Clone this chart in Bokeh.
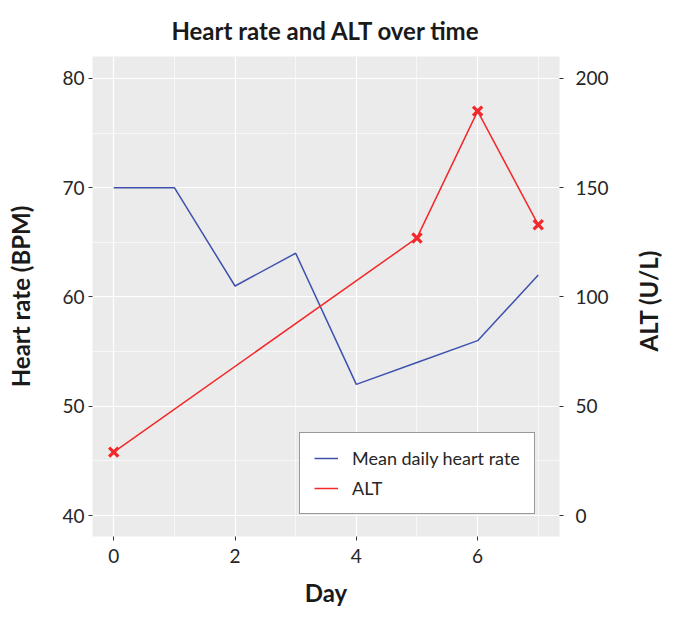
import math
from bokeh.plotting import figure
from bokeh.models import (Range1d, LinearAxis, FixedTicker, Legend, LegendItem)
from bokeh.embed import file_html
from bokeh.resources import INLINE

# ---- data ----
days_hr = [0, 1, 2, 3, 4, 5, 6, 7]
heart_rate = [70, 70, 61, 64, 52, 54, 56, 62]
days_alt = [0, 5, 6, 7]
alt_values = [29, 127, 185, 133]
hr_ticks = [40, 50, 60, 70, 80]
alt_ticks = [0, 50, 100, 150, 200]
day_ticks = [0, 2, 4, 6]

FONT = "Lato"
BLUE = "#3F51AE"
RED = "#F2282A"
TXT = "#262626"

hr_lo, hr_hi = 38.08, 82.0
def hr_to_alt(v):
    return (v - 40) * 5

FW, FH = 467, 480
p = figure(width=658, height=602, output_backend="svg", toolbar_location=None,
           x_range=Range1d(-0.35, 7.35), y_range=Range1d(hr_lo, hr_hi),
           frame_width=FW, frame_height=FH,
           min_border_left=92, min_border_right=99, min_border_top=56, min_border_bottom=66)
p.extra_y_ranges = {"alt": Range1d(hr_to_alt(hr_lo), hr_to_alt(hr_hi))}

p.background_fill_color = "#EBEBEB"
p.border_fill_color = "white"
p.outline_line_color = None

p.title.text = "Heart rate and ALT over time"
p.title.align = "center"
p.title.text_font = FONT
p.title.text_font_style = "bold"
p.title.text_font_size = "24px"
p.title.text_color = "#1a1a1a"
p.title.standoff = 23

# axes
xa = p.xaxis[0]
xa.ticker = FixedTicker(ticks=day_ticks, minor_ticks=[1, 3, 5, 7])
ya = p.yaxis[0]
ya.ticker = FixedTicker(ticks=hr_ticks, minor_ticks=[45, 55, 65, 75])
ra = LinearAxis(y_range_name="alt", ticker=FixedTicker(ticks=alt_ticks),
                axis_label="ALT (U/L)")
p.add_layout(ra, "right")

xa.axis_label = "Day"
ya.axis_label = "Heart rate (BPM)"

for ax in (xa, ya, ra):
    ax.axis_line_color = None
    ax.major_tick_line_color = "#333333"
    ax.major_tick_out = 4
    ax.major_tick_in = 0
    ax.minor_tick_line_color = None
    ax.major_label_text_font = FONT
    ax.major_label_text_font_size = "19px"
    ax.major_label_text_color = TXT
    ax.axis_label_text_font = FONT
    ax.axis_label_text_font_style = "bold"
    ax.axis_label_text_font_size = "24px"
    ax.axis_label_text_color = "#1a1a1a"
    ax.major_label_standoff = 4
xa.major_label_standoff = 8
xa.axis_label_standoff = 12
ya.axis_label_standoff = 24
ra.major_label_standoff = 12
ra.axis_label_standoff = 37
# right axis title reads bottom-to-top like the left one
try:
    ra.axis_label_orientation = math.pi / 2
except Exception:
    pass
try:
    ra.axis_label_align = "start"
    ra.axis_label = "\u2003" * 10 + "\u00a0" + "ALT (U/L)"
except Exception:
    pass

# grids
p.xgrid.grid_line_color = "white"
p.xgrid.grid_line_width = 1.2
p.xgrid.minor_grid_line_color = "white"
p.xgrid.minor_grid_line_width = 0.6
p.ygrid.grid_line_color = "white"
p.ygrid.grid_line_width = 1.2
p.ygrid.minor_grid_line_color = "white"
p.ygrid.minor_grid_line_width = 0.6

# data
hr_line = p.line(days_hr, heart_rate, line_color=BLUE, line_width=1.5)
alt_line = p.line(days_alt, alt_values, y_range_name="alt", line_color=RED, line_width=1.5)
p.scatter(days_alt, alt_values, y_range_name="alt", marker="x", size=13,
          line_color=RED, line_width=3.2)

legend = Legend(items=[LegendItem(label="Mean daily heart rate", renderers=[hr_line]),
                       LegendItem(label="ALT", renderers=[alt_line])],
                location=(207, 22))
legend.label_text_font = FONT
legend.label_text_font_size = "18px"
legend.label_text_color = TXT
legend.border_line_color = "#333333"
legend.border_line_width = 1.2
legend.background_fill_color = "white"
legend.background_fill_alpha = 1
legend.glyph_width = 24
legend.glyph_height = 20
legend.label_height = 20
legend.label_standoff = 14
legend.spacing = 8
legend.padding = 14
legend.margin = 0
p.add_layout(legend, "center")

open("out.html", "w").write(file_html(p, INLINE))
